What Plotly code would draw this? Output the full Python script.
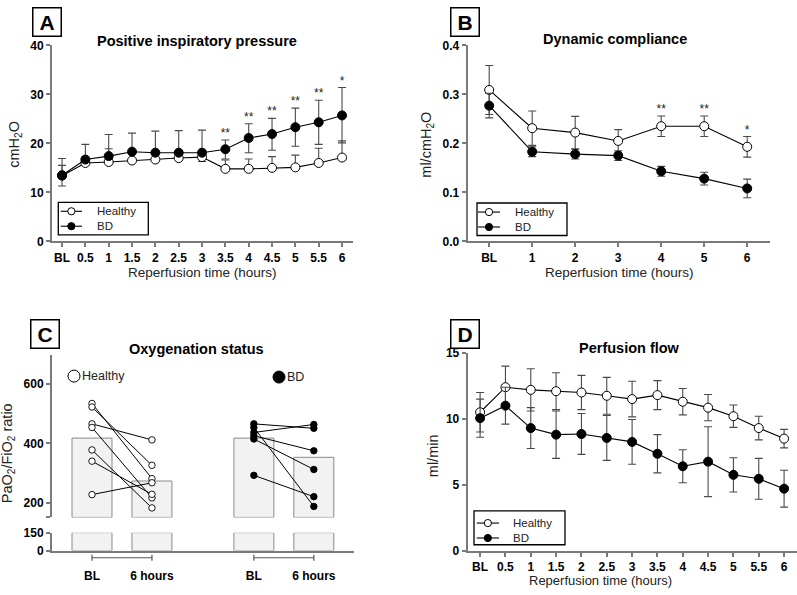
import plotly.graph_objects as go

W, H = 797, 595
FONT = "Liberation Sans, Arial, sans-serif"

# ---------------- data ----------------
# Panel A: Positive inspiratory pressure (cmH2O)
a_ticks = ["BL", "0.5", "1", "1.5", "2", "2.5", "3", "3.5", "4", "4.5", "5", "5.5", "6"]
a_healthy = [13.4, 16.0, 16.2, 16.5, 16.7, 17.0, 17.2, 14.8, 14.8, 15.0, 15.1, 16.0, 17.1]
a_healthy_up = [2.1, 1.2, 2.7, 1.5, 1.3, 0.8, 1.0, 1.8, 2.0, 2.3, 2.5, 3.0, 3.4]
a_healthy_dn = [2.1, 0.0, 0.0, 0.0, 0.0, 0.0, 0.9, 0.0, 0.0, 0.0, 0.0, 0.0, 0.0]
a_bd = [13.5, 16.7, 17.4, 18.3, 18.1, 18.1, 18.1, 18.8, 21.1, 21.9, 23.3, 24.3, 25.7]
a_bd_up = [3.4, 3.1, 4.4, 3.8, 4.4, 4.5, 4.6, 1.9, 2.9, 3.2, 3.9, 4.5, 5.7]
a_bd_dn = [0.0, 0.0, 0.0, 0.0, 0.0, 0.0, 0.0, 2.0, 3.0, 3.3, 3.9, 4.5, 5.6]
a_stars = ["", "", "", "", "", "", "", "**", "**", "**", "**", "**", "*"]

# Panel B: Dynamic compliance (ml/cmH2O)
b_ticks = ["BL", "1", "2", "3", "4", "5", "6"]
b_healthy = [0.309, 0.231, 0.222, 0.205, 0.235, 0.235, 0.193]
b_healthy_err = [0.050, 0.035, 0.033, 0.023, 0.021, 0.021, 0.021]
b_bd = [0.277, 0.183, 0.178, 0.175, 0.143, 0.128, 0.108]
b_bd_err = [0.025, 0.010, 0.010, 0.010, 0.010, 0.013, 0.019]
b_stars = ["", "", "", "", "**", "**", "*"]

# Panel C: Oxygenation status (PaO2/FiO2)
c_ticks = ["BL", "6 hours"]
c_healthy_bl = [535, 523, 466, 454, 378, 340, 227]
c_healthy_6h = [281, 326, 412, 216, 182, 228, 267]
c_bd_bl = [466, 454, 437, 426, 415, 292]
c_bd_6h = [451, 187, 464, 375, 312, 220]
c_healthy_bar = [418, 273]
c_bd_bar = [418, 353]

# Panel D: Perfusion flow (ml/min)
d_ticks = a_ticks
d_healthy = [10.5, 12.4, 12.2, 12.1, 12.0, 11.75, 11.5, 11.8, 11.3, 10.85, 10.2, 9.3, 8.5]
d_healthy_err = [1.5, 1.6, 1.6, 1.4, 1.3, 1.4, 1.35, 1.1, 1.0, 1.0, 0.85, 0.9, 0.7]
d_bd = [10.05, 11.0, 9.3, 8.8, 8.85, 8.55, 8.25, 7.35, 6.4, 6.75, 5.75, 5.45, 4.7]
d_bd_err = [1.45, 1.4, 1.55, 1.8, 1.55, 1.7, 1.7, 1.45, 1.25, 2.65, 1.3, 1.55, 1.4]

legend_names = ["Healthy", "BD"]

# ---------------- helpers ----------------
def px(x):
    return x / W

def py(y):
    return 1 - y / H

ERRC = "#4a4a4a"
AXC = "#7a7a7a"

def series(x, y, up, dn, filled, xa, ya, name):
    return go.Scatter(
        x=x, y=y, mode="lines+markers", name=name,
        xaxis=xa, yaxis=ya, showlegend=False,
        line=dict(color="black", width=1.1),
        marker=dict(symbol="circle", size=9,
                    color="black" if filled else "white",
                    line=dict(color="black", width=1)),
        error_y=dict(type="data", symmetric=False, array=up, arrayminus=dn,
                     color=ERRC, thickness=1.1, width=4),
    )

fig = go.Figure()

# Panel A
ax = list(range(len(a_ticks)))
fig.add_trace(series(ax, a_healthy, a_healthy_up, a_healthy_dn, False, "x", "y", "Healthy"))
fig.add_trace(series(ax, a_bd, a_bd_up, a_bd_dn, True, "x", "y", "BD"))
fig.add_trace(go.Scatter(x=ax, y=[m + e for m, e in zip(a_bd, a_bd_up)], text=a_stars,
                         mode="text", textposition="top center", showlegend=False,
                         textfont=dict(size=12, color="#222", family=FONT), xaxis="x", yaxis="y"))

# Panel B
bx = list(range(len(b_ticks)))
fig.add_trace(series(bx, b_healthy, b_healthy_err, b_healthy_err, False, "x2", "y2", "Healthy"))
fig.add_trace(series(bx, b_bd, b_bd_err, b_bd_err, True, "x2", "y2", "BD"))
fig.add_trace(go.Scatter(x=bx, y=[m + e for m, e in zip(b_healthy, b_healthy_err)], text=b_stars,
                         mode="text", textposition="top center", showlegend=False,
                         textfont=dict(size=12, color="#222", family=FONT), xaxis="x2", yaxis="y2"))

# Panel C
BREAK = 150
healthy_pos = [0, 1]
bd_pos = [2.7, 3.7]
bar_style = dict(marker=dict(color="#f2f2f2", line=dict(color="#8a8a8a", width=1)), width=0.667,
                 showlegend=False)
for pos, means in ((healthy_pos, c_healthy_bar), (bd_pos, c_bd_bar)):
    fig.add_trace(go.Bar(x=pos, y=[m - BREAK for m in means], base=[BREAK] * len(means),
                         xaxis="x3", yaxis="y3", **bar_style))
    fig.add_trace(go.Bar(x=pos, y=[BREAK] * len(means), base=[0] * len(means),
                         xaxis="x3", yaxis="y4", **bar_style))
for b0, b6 in zip(c_healthy_bl, c_healthy_6h):
    fig.add_trace(go.Scatter(x=healthy_pos, y=[b0, b6], mode="lines+markers", showlegend=False,
                             xaxis="x3", yaxis="y3", line=dict(color="black", width=1),
                             marker=dict(size=6.5, color="white", line=dict(color="black", width=0.9))))
for b0, b6 in zip(c_bd_bl, c_bd_6h):
    fig.add_trace(go.Scatter(x=bd_pos, y=[b0, b6], mode="lines+markers", showlegend=False,
                             xaxis="x3", yaxis="y3", line=dict(color="black", width=1),
                             marker=dict(size=6.5, color="black", line=dict(color="black", width=0.9))))

# Panel D
dx = list(range(len(d_ticks)))
fig.add_trace(series(dx, d_healthy, d_healthy_err, d_healthy_err, False, "x4", "y5", "Healthy"))
fig.add_trace(series(dx, d_bd, d_bd_err, d_bd_err, True, "x4", "y5", "BD"))

# ---------------- axes ----------------
tickfont = dict(family=FONT, size=12, color="black", weight="bold")

def axstyle(**kw):
    d = dict(showline=True, linecolor=AXC, linewidth=2, ticks="outside", ticklen=4,
             tickcolor=AXC, tickwidth=1.5, showgrid=False, zeroline=False, tickfont=tickfont)
    d.update(kw)
    return d

ya_dom = [py(240), py(39.3)]
fig.update_layout(
    xaxis=axstyle(domain=[px(52), px(353)], range=[-0.43, 12.47], tickvals=ax, ticktext=a_ticks, anchor="y"),
    yaxis=axstyle(domain=ya_dom, range=[0, 40], dtick=10, anchor="x"),
    xaxis2=axstyle(domain=[px(467.7), px(770)], range=[-0.5, 6.53], tickvals=bx, ticktext=b_ticks, anchor="y2"),
    yaxis2=axstyle(domain=ya_dom, range=[0, 0.4], dtick=0.1, tickformat=".1f", anchor="x2"),
    xaxis3=axstyle(domain=[px(52), px(354)], range=[-0.667, 4.37], tickvals=[healthy_pos[0], healthy_pos[1], bd_pos[0], bd_pos[1]],
                   ticktext=c_ticks + c_ticks, ticks="", anchor="y4", ticklabelstandoff=13),
    yaxis3=axstyle(domain=[py(522.7), py(356)], range=[BREAK, 700], tickvals=[150, 200, 400, 600],
                   ticktext=["", "200", "400", "600"], anchor="x3"),
    yaxis4=axstyle(domain=[py(556.7), py(538.3)], range=[0, BREAK], tickvals=[0, 150], anchor="x3"),
    xaxis4=axstyle(domain=[px(467.7), 1.0], range=[-0.49, 12.51], tickvals=dx, ticktext=d_ticks, anchor="y5"),
    yaxis5=axstyle(domain=[py(556.7), py(354.3)], range=[0, 15], dtick=5, anchor="x4"),
)

# ---------------- annotations ----------------
ann = []
def text(x, y, s, size=13, bold=False, angle=0, xanchor="center", color="#222"):
    ann.append(dict(x=px(x), y=py(y), xref="paper", yref="paper", text=s, showarrow=False,
                    xanchor=xanchor, yanchor="middle", textangle=angle,
                    font=dict(family=FONT, size=size, color=color, weight="bold" if bold else "normal")))

# panel titles
text(197, 35, "Positive inspiratory pressure", 14.5, True, color="black")
text(615, 33, "Dynamic compliance", 14.5, True, color="black")
text(196, 350, "Oxygenation status", 14.5, True, color="black")
text(629, 349, "Perfusion flow", 14.5, True, color="black")
# axis titles
text(15, 140, "cmH<sub>2</sub>O", 14.5, angle=-90)
text(427, 141, "ml/cmH<sub>2</sub>O", 14.5, angle=-90)
text(8, 457, "PaO<sub>2</sub>/FiO<sub>2</sub> ratio", 14.5, angle=-90)
text(433, 460, "ml/min", 14.5, angle=-90)
text(202, 272, "Reperfusion time (hours)", 13.5)
text(619, 272, "Reperfusion time (hours)", 13.5)
text(600, 587, "Reperfusion time (hours)", 13)
# C group labels
text(80, 378, "Healthy", 12.5, xanchor="left")
text(285, 379, "BD", 12.5, xanchor="left")

# panel letters in boxes
for lx, ly, s in ((47, 15.5, "A"), (464.5, 15.5, "B"), (44.5, 334.5, "C"), (464.5, 335, "D")):
    ann.append(dict(x=px(lx), y=py(ly), xref="paper", yref="paper", text="<b>%s</b>" % s,
                    showarrow=False, xanchor="center", yanchor="middle",
                    font=dict(family=FONT, size=21, color="black"),
                    bordercolor="black", borderwidth=1.5, borderpad=0, width=27, height=27,
                    bgcolor="white"))

# ---------------- shapes ----------------
shapes = []

def circle(cx, cy, r, fill):
    shapes.append(dict(type="circle", xref="paper", yref="paper", xsizemode="pixel", ysizemode="pixel",
                       xanchor=px(cx), yanchor=py(cy), x0=-r, x1=r, y0=-r, y1=r,
                       line=dict(color="black", width=1), fillcolor=fill))

# legend boxes (Healthy / BD) for panels A, B, D
# (box left, box top, box right, box bottom, line x0, line x1, text x, row1 y, row2 y)
for bl, bt, br, bb, lx0, lx1, tx, r1, r2 in (
        (58.3, 200, 148.3, 233.3, 60.7, 82, 95, 209.2, 224.5),
        (477, 200.7, 567, 234, 478, 500, 513, 210, 225.3),
        (474, 516, 565, 550.7, 476.7, 499, 511, 528.5, 543.8)):
    shapes.append(dict(type="rect", xref="paper", yref="paper", x0=px(bl), x1=px(br), y0=py(bb), y1=py(bt),
                       line=dict(color="black", width=1.3), fillcolor="white", layer="above"))
    for ry, fill, name in ((r1, "white", legend_names[0]), (r2, "black", legend_names[1])):
        shapes.append(dict(type="line", xref="paper", yref="paper", x0=px(lx0), x1=px(lx1), y0=py(ry), y1=py(ry),
                           line=dict(color="black", width=1.1), layer="above"))
        circle((lx0 + lx1) / 2, ry, 3.6, fill)
        text(tx, ry, name, 11.5, xanchor="left")

# C group legend markers
circle(74, 378, 6, "white")
circle(279, 379, 6, "black")

# brackets under C groups
for pos in (healthy_pos, bd_pos):
    shapes.append(dict(type="line", xref="x3", yref="paper", x0=pos[0], x1=pos[1], y0=py(564), y1=py(564),
                       line=dict(color="#555", width=1.2)))
    for p in pos:
        shapes.append(dict(type="line", xref="x3", yref="paper", x0=p, x1=p, y0=py(561), y1=py(567),
                           line=dict(color="#555", width=1.2)))

fig.update_layout(shapes=shapes, annotations=ann)

fig.update_layout(width=W, height=H, margin=dict(l=0, r=0, t=0, b=0), paper_bgcolor="white",
                  plot_bgcolor="white", barmode="overlay", font=dict(family=FONT), showlegend=False)

fig.write_html("out.html", config={"displayModeBar": False},
               post_script="document.body.style.margin='0';document.body.style.padding='0';")
